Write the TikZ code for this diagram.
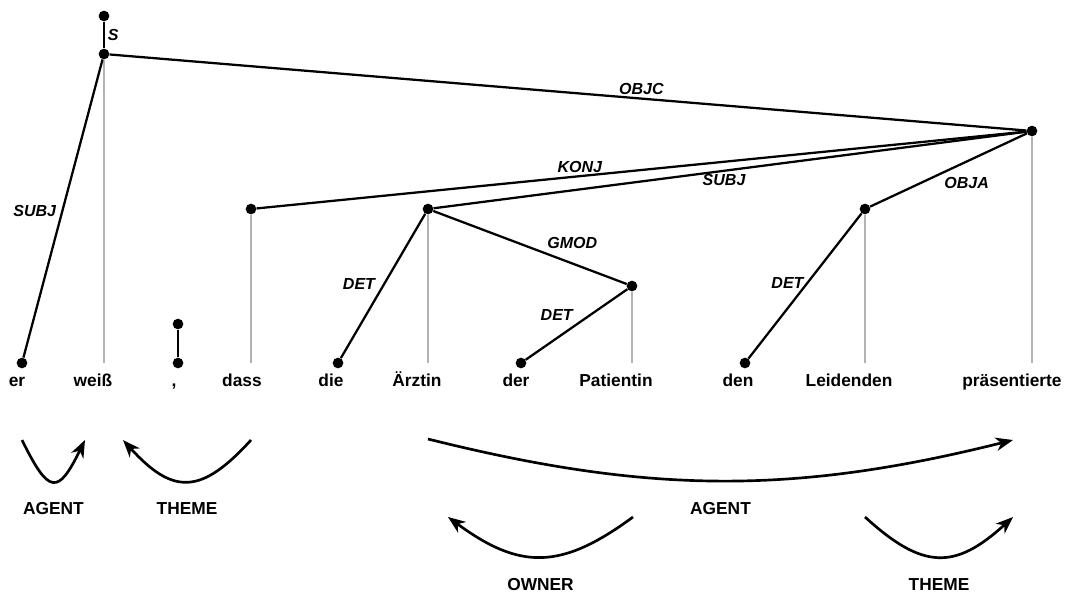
\documentclass[tikz,border=0pt]{standalone}
\usepackage{fontspec}
\setmainfont{Liberation Sans}
\usetikzlibrary{arrows.meta}
\newcommand{\wordfont}{\fontsize{13}{16}\selectfont\bfseries}
\newcommand{\relfont}{\fontsize{12}{14}\selectfont\bfseries\itshape}
\newcommand{\rolefont}{\fontsize{13}{15}\selectfont\bfseries}

\begin{document}
\begin{tikzpicture}[x=0.75pt, y=-0.75pt,
  dot/.style={circle, fill=black, inner sep=0pt, minimum size=8pt},
  dep/.style={line width=1.7pt},
  proj/.style={line width=1.7pt, black!30},
  word/.style={anchor=base, inner sep=0pt, font=\wordfont},
  rel/.style={inner sep=2pt, font=\relfont},
  role/.style={inner sep=0pt, font=\rolefont},
  sem/.style={line width=2pt, -{Stealth[length=13pt, width=10pt, inset=4pt]}}]

 \useasboundingbox (0,0) rectangle (1067,593);

 % words
 \node[word] (er) at (17,386) {er};
 \node[word] (weiss) at (93,386) {weiß};
 \node[word] (komma) at (174,386) {,};
 \node[word] (dass) at (242,386) {dass};
 \node[word] (die) at (331,386) {die};
 \node[word] (aerztin) at (417,386) {Ärztin};
 \node[word] (der) at (516,386) {der};
 \node[word] (patientin) at (616,386) {Patientin};
 \node[word] (den) at (738,386) {den};
 \node[word] (leidenden) at (849,386) {Leidenden};
 \node[word] (praes) at (1012,386) {präsentierte};

 % heads
 \node[dot] (hS) at (104,16) {};
 \node[dot] (hWeiss) at (104,54) {};
 \node[dot] (hEr) at (22,363) {};
 \node[dot] (hKommaTop) at (178,324) {};
 \node[dot] (hKomma) at (178,363) {};
 \node[dot] (hDass) at (251,209) {};
 \node[dot] (hAerztin) at (428,209) {};
 \node[dot] (hDie) at (338,363) {};
 \node[dot] (hPatientin) at (632,286) {};
 \node[dot] (hDer) at (521,363) {};
 \node[dot] (hPraes) at (1032,131) {};
 \node[dot] (hLeidenden) at (865,209) {};
 \node[dot] (hDen) at (745,363) {};
 \coordinate (floor) at (0,363);

 \foreach \h in {hWeiss, hDass, hAerztin, hPatientin, hLeidenden, hPraes}
   \draw[proj] (\h) -- (\h |- floor);

 % dependencies
 \draw[dep] (hS) -- node[rel, right] {S} (hWeiss);
 \draw[dep] (hWeiss) -- node[rel, above left, pos=0.54] {SUBJ} (hEr);
 \draw[dep] (hWeiss) -- node[rel, above, pos=0.58] {OBJC} (hPraes);
 \draw[dep] (hKommaTop) -- (hKomma);
 \draw[dep] (hPraes) -- node[rel, above, pos=0.58] {KONJ} (hDass);
 \draw[dep] (hPraes) -- node[rel, below, pos=0.51] {SUBJ} (hAerztin);
 \draw[dep] (hPraes) -- node[rel, below right, pos=0.55] {OBJA} (hLeidenden);
 \draw[dep] (hAerztin) -- node[rel, above left, pos=0.55] {DET} (hDie);
 \draw[dep] (hAerztin) -- node[rel, above right, pos=0.57] {GMOD} (hPatientin);
 \draw[dep] (hPatientin) -- node[rel, above left, pos=0.5] {DET} (hDer);
 \draw[dep] (hLeidenden) -- node[rel, left, pos=0.48] {DET} (hDen);

 % semantic roles
 \coordinate (sEr) at (22,440);
 \coordinate (tWeissL) at (85,440);
 \coordinate (sDass) at (251,440);
 \coordinate (tWeissR) at (123,440);
 \coordinate (sAerztin) at (428,439);
 \coordinate (tPraes) at (1013,440);
 \coordinate (sPatientin) at (633,517);
 \coordinate (tAerztin) at (448,517);
 \coordinate (sLeidenden) at (865,517);
 \coordinate (tPraesB) at (1013,517);

 \draw[sem] (sEr) .. controls +(27,55) and +(-27,55) .. node[role, below=15pt] {AGENT} (tWeissL);
 \draw[sem] (sDass) .. controls +(-50,55) and +(50,55) .. node[role, below=15pt] {THEME} (tWeissR);
 \draw[sem] (sAerztin) .. controls +(220,55) and +(-220,55) .. node[role, below=15pt] {AGENT} (tPraes);
 \draw[sem] (sPatientin) .. controls +(-72,53) and +(72,53) .. node[role, below=15pt] {OWNER} (tAerztin);
 \draw[sem] (sLeidenden) .. controls +(58,53) and +(-58,53) .. node[role, below=15pt] {THEME} (tPraesB);

\end{tikzpicture}
\end{document}
